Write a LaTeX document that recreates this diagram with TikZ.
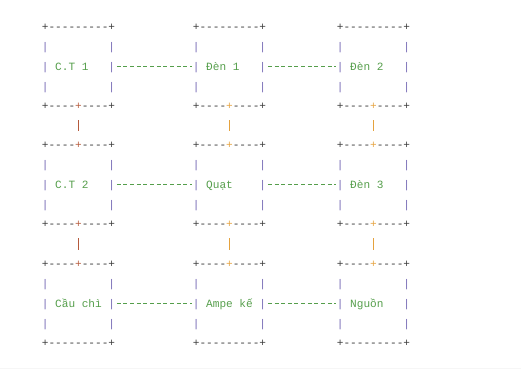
\documentclass[tikz,border=0pt]{standalone}
\usepackage{fontspec}
\setmonofont{Liberation Mono}
\usepackage{xcolor}
\usepackage{tikz}
\usetikzlibrary{calc}
\definecolor{edgec}{HTML}{3A3A3A}
\definecolor{barc}{HTML}{7468B4}
\definecolor{labc}{HTML}{559E4B}
\definecolor{redc}{HTML}{B55A3C}
\definecolor{orac}{HTML}{E5A23E}
\newlength{\cw}
\AtBeginDocument{\settowidth{\cw}{\ttfamily\fontsize{11.1bp}{19.75bp}\selectfont x}}
\newcommand{\ed}{\textcolor{edgec}{-}}
\newcommand{\jn}[1]{\textcolor{#1}{+}}
\newcommand{\vb}{\textcolor{barc}{|}}
\newcommand{\blank}{\vb\phantom{---------}\vb}
\newcommand{\boxtxt}[3]{\strut\textcolor{edgec}{+----}#2\textcolor{edgec}{----+}\\
  \blank\\
  \vb\makebox[9\cw][l]{\ \textcolor{labc}{#1}}\vb\\
  \blank\\
  \textcolor{edgec}{+----}#3\textcolor{edgec}{----+}\strut}
\tikzset{
  box/.style={font=\ttfamily\fontsize{11.1bp}{19.75bp}\selectfont,align=left,inner sep=0pt},
  hl/.style={draw=labc,line width=1.1bp,dash pattern=on 4bp off 2.66bp,shorten <=1.5bp,shorten >=1bp},
  vl/.style={line width=1.8bp,shorten <=4.2bp,shorten >=3.8bp}
}
\begin{document}
\begin{tikzpicture}[x=1bp,y=-1bp]
\useasboundingbox (0,0) rectangle (521,369);
\fill[gray!7] (0,367.5) rectangle (521,369);
% row 1
\node[box] (ct1) at (78.5,66.5) {\boxtxt{C.T 1}{\ed}{\jn{redc}}};
\node[box] (den1) at (229.5,66.5) {\boxtxt{Đèn 1}{\ed}{\jn{orac}}};
\node[box] (den2) at (373.5,66.5) {\boxtxt{Đèn 2}{\ed}{\jn{orac}}};
% row 2
\node[box] (ct2) at (78.5,184.5) {\boxtxt{C.T 2}{\jn{redc}}{\jn{redc}}};
\node[box] (quat) at (229.5,184.5) {\boxtxt{Quạt}{\jn{orac}}{\jn{orac}}};
\node[box] (den3) at (373.5,184.5) {\boxtxt{Đèn 3}{\jn{orac}}{\jn{orac}}};
% row 3
\node[box] (cauchi) at (78.5,303.5) {\boxtxt{Cầu chì}{\jn{redc}}{\ed}};
\node[box] (ampe) at (229.5,303.5) {\boxtxt{Ampe kế}{\jn{orac}}{\ed}};
\node[box] (nguon) at (373.5,303.5) {\boxtxt{Nguồn}{\jn{orac}}{\ed}};
% links
\draw[hl] (ct1.east)--(den1.west);
\draw[hl] (den1.east)--(den2.west);
\draw[hl] (ct2.east)--(quat.west);
\draw[hl] (quat.east)--(den3.west);
\draw[hl] (cauchi.east)--(ampe.west);
\draw[hl] (ampe.east)--(nguon.west);
\draw[vl,draw=redc] (ct1.south)--(ct2.north);
\draw[vl,draw=orac] (den1.south)--(quat.north);
\draw[vl,draw=orac] (den2.south)--(den3.north);
\draw[vl,draw=redc] (ct2.south)--(cauchi.north);
\draw[vl,draw=orac] (quat.south)--(ampe.north);
\draw[vl,draw=orac] (den3.south)--(nguon.north);
\end{tikzpicture}
\end{document}
